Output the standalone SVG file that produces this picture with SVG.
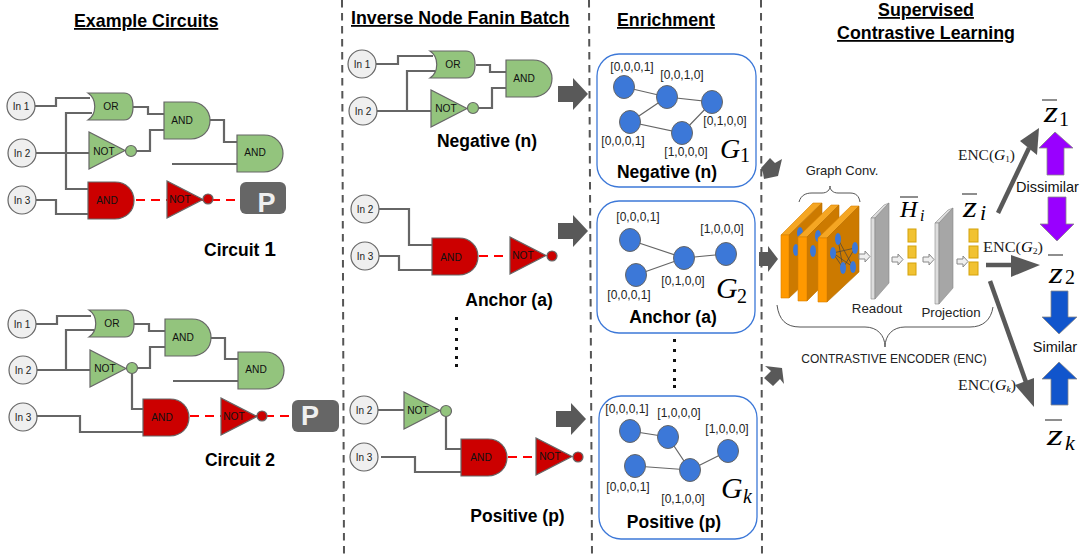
<svg xmlns="http://www.w3.org/2000/svg" width="1081" height="554" viewBox="0 0 1081 554">
<style>
text{font-family:"Liberation Sans",Arial,sans-serif;fill:#000}
.t{font-weight:700;font-size:17.8px;text-decoration:underline}
.b{font-weight:700;font-size:17.5px;text-anchor:middle}
.g{font-size:10.2px;text-anchor:middle;fill:#111}
.in{font-size:10px;text-anchor:middle;fill:#222}
.v{font-size:12px;text-anchor:middle;fill:#222}
.s{font-size:13.3px;text-anchor:middle;fill:#222}
.m{font-family:"Liberation Serif",serif;font-style:italic;fill:#000}
.r{font-family:"Liberation Serif",serif;fill:#000}
.in-c{fill:#efefef;stroke:#666;stroke-width:1.2}
.gr{fill:#93c47d;stroke:#666;stroke-width:1.2}
.rd{fill:#cc0000;stroke:#666;stroke-width:1.2}
.w{fill:none;stroke:#666;stroke-width:2.200}
.d{fill:none;stroke:#f00;stroke-width:2.200;stroke-dasharray:9 6}
.sep{fill:none;stroke:#555;stroke-width:2;stroke-dasharray:7.5 5.5}
.box{fill:none;stroke:#3c78d8;stroke-width:1.3}
.n{fill:#3c78d8;stroke:#666;stroke-width:1}
.e{stroke:#666;stroke-width:1.2;fill:none}
.ar{fill:#595959}
.thick{fill:none;stroke:#595959;stroke-width:4.500}
.y{fill:#f1c232;stroke:#d4a20a;stroke-width:1}
.sa{fill:#efefef;stroke:#888;stroke-width:1}
.of{fill:#ff9900;stroke:#d98200;stroke-width:.6}
.os{fill:#cc7a00;stroke:#b86e00;stroke-width:.6}
.ot{fill:#f5a623;stroke:#d98200;stroke-width:.6}
.be{fill:#3c78d8}
.br{fill:none;stroke:#555;stroke-width:1}
.bar{stroke:#444;stroke-width:1.2}
.pl{fill:#ddd;stroke:#888;stroke-width:.6}
.ps{fill:#a6a6a6;stroke:#888;stroke-width:.6}
.pu{fill:#9900ff;stroke:#888;stroke-width:.8}
.bl{fill:#1155cc;stroke:#888;stroke-width:.8}
.l{font-size:14.500px;text-anchor:middle;fill:#111}
.enc{font-family:"Liberation Serif",serif;font-size:15px;fill:#222}
</style>
<defs>
<path id="and" d="M0 0H27C38 0 46 8 46 18.500C46 29 38 37 27 37H0Z"/>
<path id="or" d="M-1 0H35C42 0 44 6 44 13.500C44 21 42 27 35 27H-1C8 21 8 6 -1 0Z"/>
<path id="not" d="M0 0V37L36 18.500Z"/>
<path id="block" d="M0 8H15V0L30 16L15 32V24H0Z"/>
<path id="sm" d="M0 3H6V0L11 5.500L6 11V8H0Z"/>
</defs>

<g id="separators">
<path class="sep" d="M342 0L344 554"/>
<path class="sep" d="M589 0L592 554"/>
<path class="sep" d="M761 0L762 554"/>
</g>

<g id="titles">
<text class="t" x="74" y="27">Example Circuits</text>
<text class="t" x="351" y="24">Inverse Node Fanin Batch</text>
<text class="t" x="617" y="26">Enrichment</text>
<text class="t" x="926" y="16" text-anchor="middle">Supervised</text>
<text class="t" x="926" y="39" text-anchor="middle">Contrastive Learning</text>
</g>

<g id="connectors">
<path class="w" d="M35 106H56V98H90M92 113H66V189H88M35 153H89M35 200H56V214H88M133 107H148V114H164M137 151H150V130H164M210 120H224V142H237M172 164H237"/>
<path class="w" d="M36 324H57V316H91M94 330H66V370M36 370H90M36 416H80V432H143M135 368H150V347H165M211 338H225V359H238M173 381H238M132 373V409H143M134 324H149V331H165"/>
<path class="w" d="M376 64H398V56H433M435 71H407V111M376 111H431M476 65H490V72H506M478 108H492V88H506"/>
<path class="w" d="M379 209H409V245H432M379 256H399V270H432"/>
<path class="w" d="M378 410H404M446 416V449H461M381 457H415V472H461"/>
<path class="d" d="M136 200H240"/>
<path class="d" d="M190 416H292"/>
<path class="d" d="M479 256H508"/>
<path class="d" d="M508 457H535"/>
<path class="e" d="M624 87L667 97L712 102L682 133L630 122L667 97"/>
<path class="e" d="M630 240L684 258L726 254M636 275L684 258"/>
<path class="e" d="M630 431L668 437L690 470L728 451M635 466L690 470"/>
<path class="thick" d="M998 213L1029 148"/>
<path class="ar" d="M1039 128L1020 141L1037 155Z"/>
<path class="thick" d="M986 265H1014"/>
<path class="ar" d="M1040 265L1011 255V277Z"/>
<path class="thick" d="M990 281L1027 385"/>
<path class="ar" d="M1034 407L1034 378L1015 385Z"/>
</g>

<g id="c1-in1"><circle class="in-c" cx="21" cy="106" r="14"/><text class="in" x="21" y="110">In 1</text></g>
<g id="c1-in2"><circle class="in-c" cx="22" cy="153" r="14"/><text class="in" x="22" y="157">In 2</text></g>
<g id="c1-in3"><circle class="in-c" cx="22" cy="200" r="14"/><text class="in" x="22" y="204">In 3</text></g>
<g id="c1-or"><use href="#or" class="gr" x="89" y="93"/><text class="g" x="111" y="110">OR</text></g>
<g id="c1-not"><use href="#not" class="gr" x="89" y="132"/><circle class="gr" cx="131" cy="151" r="5.500"/><text class="g" x="104" y="155">NOT</text></g>
<g id="c1-and1"><use href="#and" class="gr" x="164" y="102"/><text class="g" x="182" y="124">AND</text></g>
<g id="c1-and2"><use href="#and" class="gr" x="237" y="135"/><text class="g" x="255" y="156">AND</text></g>
<g id="c1-and3"><use href="#and" class="rd" x="88" y="182"/><text class="g" x="107" y="204">AND</text></g>
<g id="c1-not2"><use href="#not" class="rd" x="167" y="181"/><circle class="rd" cx="208" cy="199" r="5"/><text class="g" x="180" y="203">NOT</text></g>
<g id="c1-p"><rect x="240" y="182" width="46" height="32" rx="6" fill="#666"/><text x="266.500" y="212" font-size="27" font-weight="700" text-anchor="middle" style="fill:#efefef">P</text></g>
<text class="b" x="240" y="256">Circuit <tspan font-size="21">1</tspan></text>

<g id="c2-in1"><circle class="in-c" cx="22" cy="324" r="14"/><text class="in" x="22" y="328">In 1</text></g>
<g id="c2-in2"><circle class="in-c" cx="23" cy="370" r="14"/><text class="in" x="23" y="374">In 2</text></g>
<g id="c2-in3"><circle class="in-c" cx="23" cy="417" r="14"/><text class="in" x="23" y="421">In 3</text></g>
<g id="c2-or"><use href="#or" class="gr" x="90" y="310"/><text class="g" x="112" y="327">OR</text></g>
<g id="c2-not"><use href="#not" class="gr" x="90" y="350"/><circle class="gr" cx="132" cy="368" r="5.500"/><text class="g" x="105" y="372">NOT</text></g>
<g id="c2-and1"><use href="#and" class="gr" x="165" y="319"/><text class="g" x="183" y="341">AND</text></g>
<g id="c2-and2"><use href="#and" class="gr" x="238" y="352"/><text class="g" x="256" y="373">AND</text></g>
<g id="c2-and3"><use href="#and" class="rd" x="143" y="399"/><text class="g" x="162" y="421">AND</text></g>
<g id="c2-not2"><use href="#not" class="rd" x="221" y="398"/><circle class="rd" cx="262" cy="416" r="5"/><text class="g" x="234" y="420">NOT</text></g>
<g id="c2-p"><rect x="292" y="400" width="47" height="32" rx="6" fill="#666"/><text x="310" y="425" font-size="27" font-weight="700" text-anchor="middle" style="fill:#efefef">P</text></g>
<text class="b" x="240" y="466">Circuit 2</text>

<g id="n-in1"><circle class="in-c" cx="362" cy="64" r="14"/><text class="in" x="362" y="68">In 1</text></g>
<g id="n-in2"><circle class="in-c" cx="363" cy="111" r="14"/><text class="in" x="363" y="115">In 2</text></g>
<g id="n-or"><use href="#or" class="gr" x="431" y="51"/><text class="g" x="453" y="68">OR</text></g>
<g id="n-not"><use href="#not" class="gr" x="431" y="90"/><circle class="gr" cx="473" cy="108" r="5.500"/><text class="g" x="446" y="112">NOT</text></g>
<g id="n-and"><use href="#and" class="gr" x="506" y="60"/><text class="g" x="524" y="82">AND</text></g>
<text class="b" x="487" y="147">Negative (n)</text>
<use href="#block" class="ar" x="558" y="78"/>

<g id="a-in2"><circle class="in-c" cx="365" cy="209" r="14"/><text class="in" x="365" y="213">In 2</text></g>
<g id="a-in3"><circle class="in-c" cx="365" cy="256" r="14"/><text class="in" x="365" y="260">In 3</text></g>
<g id="a-and"><use href="#and" class="rd" x="432" y="238"/><text class="g" x="451" y="261">AND</text></g>
<g id="a-not"><use href="#not" class="rd" x="510" y="237"/><circle class="rd" cx="552" cy="256" r="5"/><text class="g" x="523" y="259">NOT</text></g>
<text class="b" x="509" y="306">Anchor (a)</text>
<use href="#block" class="ar" x="558" y="215"/>
<g id="dots1" fill="#111"><rect x="455" y="317" width="3" height="3"/><rect x="455" y="328" width="3" height="3"/><rect x="455" y="338" width="3" height="3"/><rect x="455" y="347" width="3" height="3"/><rect x="455" y="356" width="3" height="3"/><rect x="455" y="364" width="3" height="3"/></g>

<g id="p-in2"><circle class="in-c" cx="364" cy="410" r="14"/><text class="in" x="364" y="414">In 2</text></g>
<g id="p-in3"><circle class="in-c" cx="364" cy="457" r="14"/><text class="in" x="364" y="461">In 3</text></g>
<g id="p-not"><use href="#not" class="gr" x="404" y="392"/><circle class="gr" cx="446" cy="411" r="5.500"/><text class="g" x="418" y="414">NOT</text></g>
<g id="p-and"><use href="#and" class="rd" x="461" y="439"/><text class="g" x="481" y="461">AND</text></g>
<g id="p-not2"><use href="#not" class="rd" x="536" y="438"/><circle class="rd" cx="578" cy="457" r="5"/><text class="g" x="550" y="460">NOT</text></g>
<text class="b" x="517.500" y="522">Positive (p)</text>
<use href="#block" class="ar" x="556" y="403"/>

<g id="graph-neg">
<rect class="box" x="597" y="54" width="159" height="133" rx="22"/>
<ellipse class="n" cx="624" cy="87" rx="10.500" ry="11.500"/><ellipse class="n" cx="667" cy="97" rx="10.500" ry="11.500"/><ellipse class="n" cx="712" cy="102" rx="10.500" ry="11.500"/><ellipse class="n" cx="630" cy="122" rx="10.500" ry="11.500"/><ellipse class="n" cx="682" cy="133" rx="10.500" ry="11.500"/>
<text class="v" x="632" y="71">[0,0,0,1]</text><text class="v" x="682" y="79">[0,0,1,0]</text><text class="v" x="725" y="125">[0,1,0,0]</text><text class="v" x="623" y="145">[0,0,0,1]</text><text class="v" x="686" y="156">[1,0,0,0]</text>
<text class="m" x="720" y="158" font-size="28">G</text><text class="r" x="740" y="162" font-size="20">1</text>
<text class="b" x="667" y="178">Negative (n)</text>
</g>
<g id="graph-anchor">
<rect class="box" x="597" y="201" width="158" height="132" rx="22"/>
<ellipse class="n" cx="630" cy="240" rx="10.500" ry="11.500"/><ellipse class="n" cx="684" cy="258" rx="10.500" ry="11.500"/><ellipse class="n" cx="726" cy="254" rx="10.500" ry="11.500"/><ellipse class="n" cx="636" cy="275" rx="10.500" ry="11.500"/>
<text class="v" x="638" y="221">[0,0,0,1]</text><text class="v" x="722" y="233">[1,0,0,0]</text><text class="v" x="683" y="285">[0,1,0,0]</text><text class="v" x="629" y="299">[0,0,0,1]</text>
<text class="m" x="716" y="298" font-size="30">G</text><text class="r" x="737" y="303" font-size="20">2</text>
<text class="b" x="673" y="323">Anchor (a)</text>
</g>
<g id="dots2" fill="#111"><rect x="673" y="339" width="3" height="3"/><rect x="673" y="349" width="3" height="3"/><rect x="673" y="359" width="3" height="3"/><rect x="673" y="369" width="3" height="3"/><rect x="673" y="378" width="3" height="3"/><rect x="673" y="385" width="3" height="3"/></g>
<g id="graph-pos">
<rect class="box" x="599" y="396" width="158" height="143" rx="22"/>
<ellipse class="n" cx="630" cy="431" rx="10.500" ry="11.500"/><ellipse class="n" cx="668" cy="437" rx="10.500" ry="11.500"/><ellipse class="n" cx="690" cy="470" rx="10.500" ry="11.500"/><ellipse class="n" cx="635" cy="466" rx="10.500" ry="11.500"/><ellipse class="n" cx="728" cy="451" rx="10.500" ry="11.500"/>
<text class="v" x="627" y="413">[0,0,0,1]</text><text class="v" x="679" y="417">[1,0,0,0]</text><text class="v" x="727" y="433">[1,0,0,0]</text><text class="v" x="628" y="491">[0,0,0,1]</text><text class="v" x="683" y="503">[0,1,0,0]</text>
<text class="m" x="721" y="498" font-size="30">G</text><text class="m" x="743" y="503" font-size="20">k</text>
<text class="b" x="674" y="528">Positive (p)</text>
</g>

<g id="input-arrows">
<path class="ar" d="M764 179L763 173L761 168L770 158L775 163L782 159L778 176Z"/>
<path class="ar" d="M759 252H768V246L778 259L768 272V266H759Z"/>
<path class="ar" d="M765 366L782 368L784 384L780 379L773 386L764 378L771 371Z"/>
</g>

<g id="encoder">
<path class="ot" d="M781 235L813 203H822L789 235Z"/><path class="os" d="M789 235L822 203V267L789 298Z"/><path class="of" d="M781 235H789V298H781Z"/>
<ellipse class="be" cx="796" cy="250" rx="3" ry="6"/><ellipse class="be" cx="800" cy="233" rx="3" ry="6"/>
<path class="ot" d="M798 237L831 205H839L807 237Z"/><path class="os" d="M807 237L839 205V269L807 301Z"/><path class="of" d="M798 237H807V301H798Z"/>
<ellipse class="be" cx="813" cy="251" rx="3" ry="6"/><ellipse class="be" cx="818" cy="236" rx="3" ry="6"/>
<path class="ot" d="M818 238L851 206H859L827 238Z"/><path class="os" d="M827 238L859 206V272L827 302Z"/><path class="of" d="M818 238H827V302H818Z"/>
<path class="e" style="stroke:#444;stroke-width:.7" d="M838 239L853 267M838 239L843 268M833 253L855 248M833 253L853 267M843 268L855 248M833 253L843 268"/>
<ellipse class="be" cx="838" cy="239" rx="3" ry="6"/><ellipse class="be" cx="855" cy="248" rx="3" ry="6"/><ellipse class="be" cx="833" cy="253" rx="3" ry="6"/><ellipse class="be" cx="853" cy="267" rx="3" ry="6"/><ellipse class="be" cx="843" cy="268" rx="3" ry="6"/>
<path class="br" d="M799 202C801 195 806 193 812 193H822C827 193 830 190 830 186C830 190 833 193 838 193H850C856 193 859 196 860 202"/>
<text class="s" x="842" y="175" style="font-size:13px">Graph Conv.</text>
<path class="pl" d="M871 218L884 205L889 203L875 218Z"/><path class="pl" d="M871 218H875V299H871Z"/><path class="ps" d="M875 218L889 203V283L875 299Z"/>
<path class="pl" d="M935 223L948 210L953 208L939 223Z"/><path class="pl" d="M935 223H939V304H935Z"/><path class="ps" d="M939 223L953 208V288L939 304Z"/>
<use href="#sm" class="sa" x="859" y="251"/><use href="#sm" class="sa" x="892" y="254"/><use href="#sm" class="sa" x="923" y="254"/><use href="#sm" class="sa" x="957" y="256"/>
<rect class="y" x="908" y="229" width="8" height="13"/><rect class="y" x="908" y="246" width="8" height="12"/><rect class="y" x="908" y="263" width="8" height="12"/>
<rect class="y" x="969" y="229" width="9" height="13"/><rect class="y" x="969" y="246" width="9" height="12"/><rect class="y" x="969" y="262" width="9" height="13"/>
<text class="s" x="877" y="313">Readout</text><text class="s" x="951" y="317">Projection</text>
<path class="br" d="M777 305C779 320 786 327 800 327H865C877 327 885 335 885 347C885 335 893 327 905 327H970C983 327 991 320 993 307"/>
<text x="894" y="363" font-size="12" text-anchor="middle" style="fill:#222">CONTRASTIVE ENCODER (ENC)</text>
<line class="bar" x1="900" y1="197" x2="918" y2="197"/><text class="m" x="900" y="217" font-size="24">H</text><text class="m" x="920" y="221" font-size="16">i</text>
<line class="bar" x1="962" y1="194" x2="977" y2="194"/><text class="m" x="963" y="217" font-size="30" textLength="14" lengthAdjust="spacingAndGlyphs">z</text><text class="m" x="980" y="220" font-size="22">i</text>
</g>

<g id="enc-labels">
<text class="enc" x="958" y="160" textLength="57" lengthAdjust="spacingAndGlyphs">ENC(<tspan class="m">G</tspan><tspan font-size="9" dy="2">1</tspan><tspan dy="-2">)</tspan></text>
<text class="enc" x="983" y="252" textLength="60" lengthAdjust="spacingAndGlyphs">ENC(<tspan class="m">G</tspan><tspan font-size="9" dy="2">2</tspan><tspan dy="-2">)</tspan></text>
<text class="enc" x="958" y="390" textLength="58" lengthAdjust="spacingAndGlyphs">ENC(<tspan class="m">G</tspan><tspan class="m" font-size="9" dy="2">k</tspan><tspan dy="-2">)</tspan></text>
</g>

<g id="z1"><line class="bar" x1="1042" y1="100" x2="1057" y2="100"/><text class="m" x="1044" y="122" font-size="30" textLength="14" lengthAdjust="spacingAndGlyphs">z</text><text class="r" x="1059" y="126" font-size="20">1</text></g>
<g id="z2"><line class="bar" x1="1048" y1="255" x2="1063" y2="255"/><text class="m" x="1049" y="283" font-size="30" textLength="14" lengthAdjust="spacingAndGlyphs">z</text><text class="r" x="1065" y="284" font-size="20">2</text></g>
<g id="zk"><line class="bar" x1="1045" y1="420" x2="1062" y2="420"/><text class="m" x="1047" y="445" font-size="30" textLength="16" lengthAdjust="spacingAndGlyphs">z</text><text class="m" x="1065" y="450" font-size="22">k</text></g>

<g id="similarity">
<path class="pu" d="M1047 175V148H1039L1055 132L1073 148H1064V175Z"/>
<path class="pu" d="M1048 197H1066V224H1074L1057 241L1040 224H1048Z"/>
<text class="l" x="1047.500" y="192">Dissimilar</text>
<path class="bl" d="M1051 291H1068V317H1077L1059 334L1042 317H1051Z"/>
<text class="l" x="1055" y="352">Similar</text>
<path class="bl" d="M1051 405V379H1042L1059 362L1077 379H1068V405Z"/>
</g>
</svg>
